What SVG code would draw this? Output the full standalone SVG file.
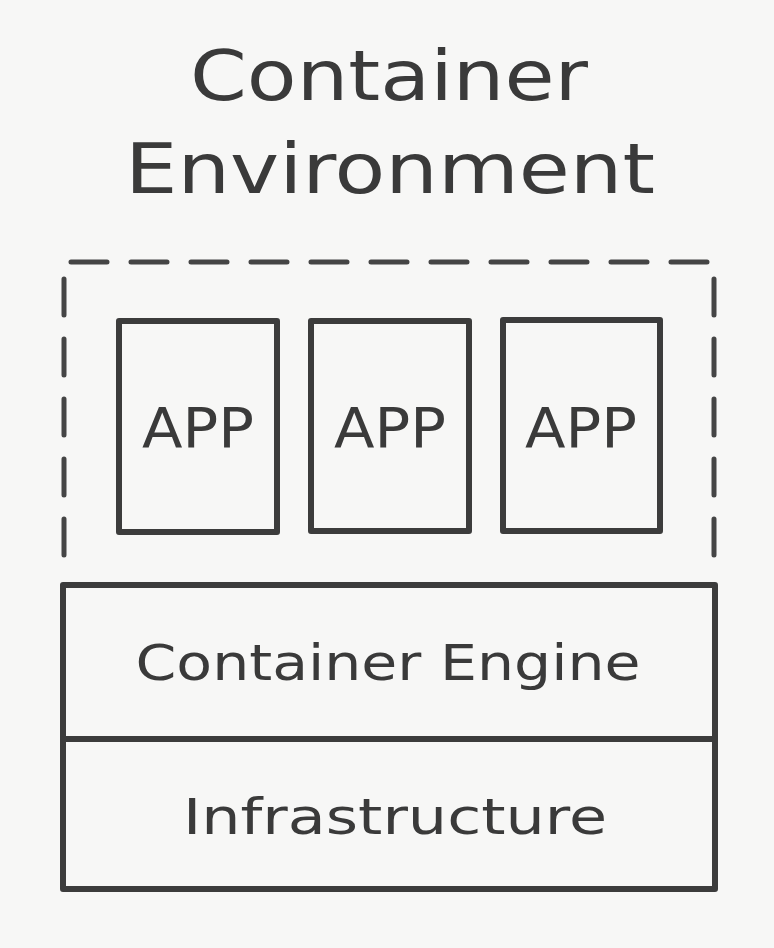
<svg xmlns="http://www.w3.org/2000/svg" width="774" height="948" viewBox="0 0 774 948">
<style>
.bg{fill:#f7f7f6}
.box{fill:none;stroke:#3c3c3c;stroke-width:6;stroke-linejoin:round}
.dash{fill:none;stroke:#454545;stroke-width:5;stroke-linecap:round;stroke-linejoin:round;stroke-dasharray:36 24}
text{font-family:"DejaVu Sans","Noto Sans",sans-serif;fill:#3a3a3a;text-anchor:middle}
.title{font-size:70px}
.app{font-size:56px}
.layer{font-size:50px}
</style>
<rect class="bg" x="0" y="0" width="774" height="948"/>
<g id="title">
<text class="title" x="389" y="100" textLength="398" lengthAdjust="spacingAndGlyphs">Container</text>
<text class="title" x="390" y="193" textLength="530" lengthAdjust="spacingAndGlyphs">Environment</text>
</g>
<g id="container-boundary">
<path class="dash" d="M64,555 V262 H714 V555"/>
</g>
<g id="app1">
<rect class="box" x="119" y="321" width="158" height="211"/>
<text class="app" x="198" y="447" textLength="112" lengthAdjust="spacingAndGlyphs">APP</text>
</g>
<g id="app2">
<rect class="box" x="311" y="321" width="158" height="210"/>
<text class="app" x="390" y="447" textLength="112" lengthAdjust="spacingAndGlyphs">APP</text>
</g>
<g id="app3">
<rect class="box" x="503" y="320" width="157" height="211"/>
<text class="app" x="581" y="447" textLength="112" lengthAdjust="spacingAndGlyphs">APP</text>
</g>
<g id="container-engine">
<rect class="box" x="63" y="585" width="652" height="154"/>
<text class="layer" x="388" y="680" textLength="505" lengthAdjust="spacingAndGlyphs">Container Engine</text>
</g>
<g id="infrastructure">
<rect class="box" x="63" y="739" width="652" height="150"/>
<text class="layer" x="395" y="834" textLength="424" lengthAdjust="spacingAndGlyphs">Infrastructure</text>
</g>
<g id="connectors"></g>
</svg>
